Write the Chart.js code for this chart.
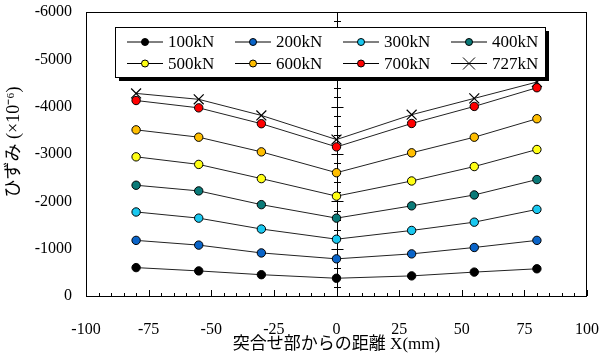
<!DOCTYPE html>
<html>
<head>
<meta charset="utf-8">
<script src="https://cdn.jsdelivr.net/npm/chart.js@4.4.1/dist/chart.umd.min.js"></script>
<style>
  html, body { margin: 0; padding: 0; background: #fff; }
  #wrap { width: 601px; height: 355px; }
</style>
</head>
<body>
<div id="wrap"><canvas id="grafico"></canvas></div>
<script>
// 測定位置 (mm)
var xPos = [-80, -55, -30, 0, 30, 55, 80];
// 荷重
var loads = ['100kN', '200kN', '300kN', '400kN', '500kN', '600kN', '700kN', '727kN'];
// ひずみ (×10^-6)
var s100 = [-600, -530, -450, -375, -425, -505, -575];
var s200 = [-1175, -1075, -910, -785, -890, -1025, -1175];
var s300 = [-1775, -1645, -1415, -1200, -1385, -1560, -1830];
var s400 = [-2340, -2220, -1930, -1645, -1905, -2135, -2460];
var s500 = [-2940, -2780, -2480, -2110, -2430, -2735, -3095];
var s600 = [-3510, -3355, -3045, -2605, -3025, -3355, -3745];
var s700 = [-4130, -3975, -3640, -3150, -3645, -4005, -4400];
var s727 = [-4280, -4155, -3815, -3305, -3830, -4175, -4520];
// 目盛
var xTicks = [-100, -75, -50, -25, 0, 25, 50, 75, 100];
var yTicks = [0, -1000, -2000, -3000, -4000, -5000, -6000];

var series = [s100, s200, s300, s400, s500, s600, s700, s727];
var colors = ['#000000', '#0a64c8', '#19c8f0', '#0a7a78', '#ffff14', '#ffbe00', '#ff0000', '#000000'];

var serif = '"Liberation Serif", "Noto Sans CJK JP", serif';

var datasets = series.map(function (vals, i) {
    var last = i === 7;
    return {
        label: loads[i],
        data: vals.map(function (v, j) { return { x: xPos[j], y: v }; }),
        showLine: true,
        borderColor: '#222',
        borderWidth: 1,
        backgroundColor: colors[i],
        pointBackgroundColor: colors[i],
        pointBorderColor: '#000',
        pointBorderWidth: last ? 1.2 : 1,
        pointRadius: last ? 7 : 4.2,
        pointStyle: last ? 'crossRot' : 'circle'
    };
});

// 枠・目盛・凡例
var decor = {
    id: 'decor',
    beforeDatasetsDraw: function (chart) {
        var ctx = chart.ctx, a = chart.chartArea;
        var xs = chart.scales.x, ys = chart.scales.y;
        ctx.save();
        ctx.strokeStyle = '#000';
        ctx.lineWidth = 1;
        ctx.strokeRect(a.left + 0.5, a.top + 0.5, a.right - a.left - 1, a.bottom - a.top);
        // 下側の目盛
        ctx.beginPath();
        for (var v = -100; v <= 100; v += 5) {
            var px = Math.round(xs.getPixelForValue(v)) + 0.5;
            var len = (v % 25 === 0) ? 6 : 3;
            ctx.moveTo(px, a.bottom);
            ctx.lineTo(px, a.bottom - len);
        }
        ctx.stroke();
        // 中央の軸
        var cx = Math.round(xs.getPixelForValue(0)) + 0.5;
        ctx.beginPath();
        ctx.moveTo(cx, a.top);
        ctx.lineTo(cx, a.bottom);
        for (var w = 0; w >= -6000; w -= 200) {
            var py = Math.round(ys.getPixelForValue(w)) + 0.5;
            var l = (w % 1000 === 0) ? 6 : 3.5;
            ctx.moveTo(cx - l, py);
            ctx.lineTo(cx + l, py);
        }
        ctx.stroke();
        ctx.restore();
    },
    afterDraw: function (chart) {
        var ctx = chart.ctx;
        ctx.save();
        // y軸タイトル
        ctx.translate(14, 142);
        ctx.rotate(-Math.PI / 2);
        ctx.font = '18px ' + serif;
        ctx.fillStyle = '#000';
        ctx.textAlign = 'center';
        ctx.textBaseline = 'middle';
        ctx.fillText('ひずみ (×10⁻⁶)', 0, 0);
        ctx.restore();

        // 凡例
        var bx = 115, by = 27, bw = 430, bh = 50;
        ctx.save();
        ctx.fillStyle = '#000';
        ctx.fillRect(bx + 4, by + 4, bw, bh);
        ctx.fillStyle = '#fff';
        ctx.fillRect(bx, by, bw, bh);
        ctx.strokeStyle = '#000';
        ctx.lineWidth = 1;
        ctx.strokeRect(bx + 0.5, by + 0.5, bw, bh);
        ctx.font = '17px ' + serif;
        ctx.textBaseline = 'middle';
        chart.data.datasets.forEach(function (ds, i) {
            var col = i % 4, row = Math.floor(i / 4);
            var x0 = 127 + col * 108, y0 = 42 + row * 21.5;
            ctx.strokeStyle = '#000';
            ctx.lineWidth = 1;
            ctx.beginPath();
            ctx.moveTo(x0, y0);
            ctx.lineTo(x0 + 36, y0);
            ctx.stroke();
            if (ds.pointStyle === 'crossRot') {
                ctx.beginPath();
                ctx.moveTo(x0 + 18 - 6, y0 - 6);
                ctx.lineTo(x0 + 18 + 6, y0 + 6);
                ctx.moveTo(x0 + 18 - 6, y0 + 6);
                ctx.lineTo(x0 + 18 + 6, y0 - 6);
                ctx.stroke();
            } else {
                ctx.beginPath();
                ctx.arc(x0 + 18, y0, 3.5, 0, Math.PI * 2);
                ctx.fillStyle = ds.pointBackgroundColor;
                ctx.fill();
                ctx.stroke();
            }
            ctx.fillStyle = '#000';
            ctx.fillText(ds.label, x0 + 41, y0 + 1);
        });
        ctx.restore();
    }
};

var ctx = document.querySelector('#grafico');
var chart = new Chart(ctx, {
    type: 'scatter',
    data: { datasets: datasets },
    options: {
        responsive: true,
        maintainAspectRatio: false,
        animation: false,
        layout: { padding: { top: 12, right: 14, left: 0, bottom: 0 } },
        plugins: { legend: { display: false }, tooltip: { enabled: false } },
        scales: {
            x: {
                type: 'linear',
                min: -100,
                max: 100,
                afterBuildTicks: function (s) { s.ticks = xTicks.map(function (v) { return { value: v }; }); },
                afterFit: function (s) { s.height = 59; s.paddingLeft = 0; s.paddingRight = 0; },
                grid: { display: false, drawTicks: false },
                border: { display: false },
                ticks: {
                    color: '#000',
                    font: { family: serif, size: 16 },
                    padding: 24,
                    maxRotation: 0,
                    callback: function (v) { return String(v); }
                },
                title: {
                    display: true,
                    text: '突合せ部からの距離 X(mm)',
                    color: '#000',
                    font: { family: serif, size: 17 },
                    padding: { top: 0, bottom: 0 }
                }
            },
            y: {
                type: 'linear',
                min: -6000,
                max: 0,
                reverse: true,
                afterBuildTicks: function (s) { s.ticks = yTicks.map(function (v) { return { value: v }; }); },
                afterFit: function (s) { s.width = 86; s.paddingTop = 0; s.paddingBottom = 0; },
                grid: { display: false, drawTicks: false },
                border: { display: false },
                ticks: {
                    color: '#000',
                    font: { family: serif, size: 16 },
                    padding: 14,
                    callback: function (v) { return String(v); }
                }
            }
        }
    },
    plugins: [decor]
});
</script>
</body>
</html>
